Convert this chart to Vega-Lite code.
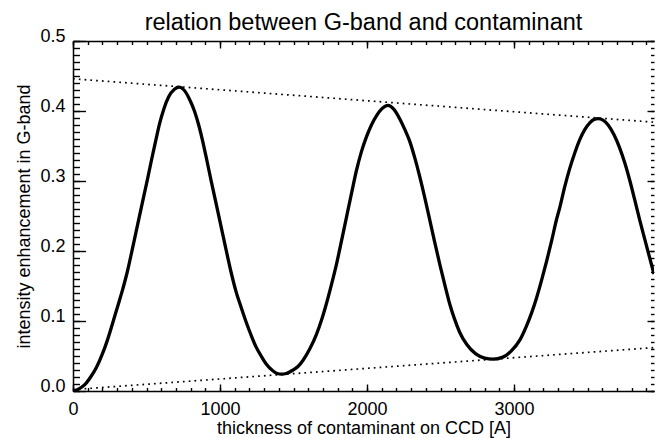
{
  "$schema": "https://vega.github.io/schema/vega-lite/v6.json",
  "width": 581,
  "height": 350,
  "autosize": {"type": "none"},
  "padding": {"left": 73, "top": 41, "right": 2, "bottom": 47},
  "background": "white",
  "title": {"text": "relation between G-band and contaminant", "fontSize": 23.5, "font": "Liberation Sans", "fontWeight": "normal", "color": "black", "anchor": "middle", "offset": -7},
  "config": {
    "view": {"stroke": null},
    "axis": {"grid": false, "minExtent": 0, "labelFont": "Liberation Sans", "titleFont": "Liberation Sans", "labelColor": "black", "titleColor": "black", "domainColor": "black", "tickColor": "black", "labelFontSize": 18, "titleFontSize": 18, "titleFontWeight": "normal", "tickWidth": 1.4, "domainWidth": 1.5, "labelFlush": false, "labelOverlap": false}
  },
  "datasets": {
    "curve": [
      {"thickness": 0, "enhancement": 0.0},
      {"thickness": 40, "enhancement": 0.003},
      {"thickness": 80, "enhancement": 0.009},
      {"thickness": 120, "enhancement": 0.02},
      {"thickness": 160, "enhancement": 0.034},
      {"thickness": 200, "enhancement": 0.053},
      {"thickness": 233, "enhancement": 0.072},
      {"thickness": 267, "enhancement": 0.095},
      {"thickness": 301, "enhancement": 0.119},
      {"thickness": 335, "enhancement": 0.143},
      {"thickness": 369, "enhancement": 0.17},
      {"thickness": 404, "enhancement": 0.203},
      {"thickness": 448, "enhancement": 0.246},
      {"thickness": 476, "enhancement": 0.273},
      {"thickness": 505, "enhancement": 0.301},
      {"thickness": 534, "enhancement": 0.33},
      {"thickness": 562, "enhancement": 0.357},
      {"thickness": 589, "enhancement": 0.382},
      {"thickness": 618, "enhancement": 0.403},
      {"thickness": 650, "enhancement": 0.42},
      {"thickness": 690, "enhancement": 0.431},
      {"thickness": 722, "enhancement": 0.434},
      {"thickness": 755, "enhancement": 0.43},
      {"thickness": 790, "enhancement": 0.418},
      {"thickness": 826, "enhancement": 0.4},
      {"thickness": 855, "enhancement": 0.38},
      {"thickness": 882, "enhancement": 0.357},
      {"thickness": 910, "enhancement": 0.33},
      {"thickness": 939, "enhancement": 0.301},
      {"thickness": 968, "enhancement": 0.273},
      {"thickness": 996, "enhancement": 0.246},
      {"thickness": 1040, "enhancement": 0.203},
      {"thickness": 1075, "enhancement": 0.17},
      {"thickness": 1109, "enhancement": 0.142},
      {"thickness": 1143, "enhancement": 0.12},
      {"thickness": 1177, "enhancement": 0.099},
      {"thickness": 1211, "enhancement": 0.08},
      {"thickness": 1245, "enhancement": 0.063},
      {"thickness": 1280, "enhancement": 0.05},
      {"thickness": 1313, "enhancement": 0.039},
      {"thickness": 1359, "enhancement": 0.029},
      {"thickness": 1390, "enhancement": 0.025},
      {"thickness": 1418, "enhancement": 0.024},
      {"thickness": 1450, "enhancement": 0.025},
      {"thickness": 1497, "enhancement": 0.03},
      {"thickness": 1530, "enhancement": 0.035},
      {"thickness": 1565, "enhancement": 0.044},
      {"thickness": 1610, "enhancement": 0.06},
      {"thickness": 1656, "enhancement": 0.081},
      {"thickness": 1690, "enhancement": 0.101},
      {"thickness": 1724, "enhancement": 0.125},
      {"thickness": 1758, "enhancement": 0.152},
      {"thickness": 1792, "enhancement": 0.181},
      {"thickness": 1826, "enhancement": 0.214},
      {"thickness": 1860, "enhancement": 0.248},
      {"thickness": 1894, "enhancement": 0.282},
      {"thickness": 1928, "enhancement": 0.315},
      {"thickness": 1962, "enhancement": 0.342},
      {"thickness": 1996, "enhancement": 0.363},
      {"thickness": 2030, "enhancement": 0.38},
      {"thickness": 2064, "enhancement": 0.393},
      {"thickness": 2100, "enhancement": 0.403},
      {"thickness": 2143, "enhancement": 0.408},
      {"thickness": 2180, "enhancement": 0.403},
      {"thickness": 2222, "enhancement": 0.389},
      {"thickness": 2256, "enhancement": 0.374},
      {"thickness": 2290, "enhancement": 0.357},
      {"thickness": 2325, "enhancement": 0.333},
      {"thickness": 2359, "enhancement": 0.306},
      {"thickness": 2393, "enhancement": 0.276},
      {"thickness": 2427, "enhancement": 0.244},
      {"thickness": 2461, "enhancement": 0.212},
      {"thickness": 2495, "enhancement": 0.181},
      {"thickness": 2530, "enhancement": 0.151},
      {"thickness": 2563, "enhancement": 0.124},
      {"thickness": 2595, "enhancement": 0.103},
      {"thickness": 2630, "enhancement": 0.084},
      {"thickness": 2680, "enhancement": 0.066},
      {"thickness": 2740, "enhancement": 0.053},
      {"thickness": 2800, "enhancement": 0.047},
      {"thickness": 2858, "enhancement": 0.0455},
      {"thickness": 2920, "enhancement": 0.048},
      {"thickness": 2980, "enhancement": 0.057},
      {"thickness": 3040, "enhancement": 0.073},
      {"thickness": 3085, "enhancement": 0.093},
      {"thickness": 3120, "enhancement": 0.112},
      {"thickness": 3153, "enhancement": 0.133},
      {"thickness": 3187, "enhancement": 0.158},
      {"thickness": 3221, "enhancement": 0.185},
      {"thickness": 3255, "enhancement": 0.214},
      {"thickness": 3289, "enhancement": 0.245},
      {"thickness": 3311, "enhancement": 0.262},
      {"thickness": 3345, "enhancement": 0.292},
      {"thickness": 3379, "enhancement": 0.318},
      {"thickness": 3413, "enhancement": 0.34},
      {"thickness": 3447, "enhancement": 0.359},
      {"thickness": 3480, "enhancement": 0.373},
      {"thickness": 3515, "enhancement": 0.383},
      {"thickness": 3545, "enhancement": 0.388},
      {"thickness": 3572, "enhancement": 0.389},
      {"thickness": 3605, "enhancement": 0.387},
      {"thickness": 3640, "enhancement": 0.38},
      {"thickness": 3680, "enhancement": 0.366},
      {"thickness": 3719, "enhancement": 0.347},
      {"thickness": 3753, "enhancement": 0.326},
      {"thickness": 3787, "enhancement": 0.301},
      {"thickness": 3821, "enhancement": 0.273},
      {"thickness": 3855, "enhancement": 0.244},
      {"thickness": 3889, "enhancement": 0.217},
      {"thickness": 3923, "enhancement": 0.19},
      {"thickness": 3952, "enhancement": 0.167}
    ],
    "upper": [
      {"thickness": 0, "enhancement": 0.446},
      {"thickness": 3952, "enhancement": 0.384}
    ],
    "lower": [
      {"thickness": 0, "enhancement": 0.002},
      {"thickness": 3952, "enhancement": 0.062}
    ]
  },
  "layer": [
    {
      "data": {"name": "curve"},
      "mark": {"type": "line", "color": "black", "strokeWidth": 3.3, "interpolate": "monotone", "clip": true},
      "encoding": {
        "x": {"field": "thickness", "type": "quantitative", "scale": {"domain": [0, 3952], "nice": false, "zero": false},
          "axis": {"orient": "bottom", "values": [0, 1000, 2000, 3000], "format": "d", "ticks": false, "domain": true, "labelPadding": 23.5, "labelBaseline": "alphabetic", "title": "thickness of contaminant on CCD [A]", "titleY": 42, "titleBaseline": "alphabetic"}},
        "y": {"field": "enhancement", "type": "quantitative", "scale": {"domain": [0, 0.5], "nice": false, "zero": false},
          "axis": {"orient": "left", "values": [0, 0.1, 0.2, 0.3, 0.4, 0.5], "format": ".1f", "ticks": false, "domain": true, "labelPadding": 8, "labelBaseline": "alphabetic", "title": "intensity enhancement in G-band", "titleX": -44, "titleBaseline": "alphabetic"}}
      }
    },
    {
      "data": {"name": "upper"},
      "mark": {"type": "line", "color": "black", "strokeWidth": 1.7, "strokeDash": [1.7, 4.1], "clip": true},
      "encoding": {
        "x": {"field": "thickness", "type": "quantitative", "scale": {"domain": [0, 3952], "nice": false, "zero": false},
          "axis": {"orient": "bottom", "values": [0, 1000, 2000, 3000], "labels": false, "domain": false, "ticks": true, "tickSize": 7, "offset": -7, "title": null}},
        "y": {"field": "enhancement", "type": "quantitative", "scale": {"domain": [0, 0.5], "nice": false, "zero": false},
          "axis": {"orient": "left", "values": [0, 0.1, 0.2, 0.3, 0.4, 0.5], "labels": false, "domain": false, "ticks": true, "tickSize": 12.5, "offset": -12.5, "title": null}}
      }
    },
    {
      "data": {"name": "lower"},
      "mark": {"type": "line", "color": "black", "strokeWidth": 1.7, "strokeDash": [1.7, 4.1], "clip": true},
      "encoding": {
        "x": {"field": "thickness", "type": "quantitative", "scale": {"domain": [0, 3952], "nice": false, "zero": false},
          "axis": {"orient": "bottom", "values": [0, 100, 200, 300, 400, 500, 600, 700, 800, 900, 1000, 1100, 1200, 1300, 1400, 1500, 1600, 1700, 1800, 1900, 2000, 2100, 2200, 2300, 2400, 2500, 2600, 2700, 2800, 2900, 3000, 3100, 3200, 3300, 3400, 3500, 3600, 3700, 3800, 3900], "labels": false, "domain": false, "ticks": true, "tickSize": 3.5, "offset": -3.5, "title": null}},
        "y": {"field": "enhancement", "type": "quantitative", "scale": {"domain": [0, 0.5], "nice": false, "zero": false},
          "axis": {"orient": "left", "values": [0, 0.01, 0.02, 0.03, 0.04, 0.05, 0.06, 0.07, 0.08, 0.09, 0.1, 0.11, 0.12, 0.13, 0.14, 0.15, 0.16, 0.17, 0.18, 0.19, 0.2, 0.21, 0.22, 0.23, 0.24, 0.25, 0.26, 0.27, 0.28, 0.29, 0.3, 0.31, 0.32, 0.33, 0.34, 0.35, 0.36, 0.37, 0.38, 0.39, 0.4, 0.41, 0.42, 0.43, 0.44, 0.45, 0.46, 0.47, 0.48, 0.49, 0.5], "labels": false, "domain": false, "ticks": true, "tickSize": 6.5, "offset": -6.5, "title": null}}
      }
    },
    {
      "data": {"name": "upper"},
      "mark": {"type": "line", "opacity": 0},
      "encoding": {
        "x": {"field": "thickness", "type": "quantitative", "scale": {"domain": [0, 3952], "nice": false, "zero": false},
          "axis": {"orient": "top", "values": [0, 1000, 2000, 3000], "labels": false, "domain": false, "ticks": true, "tickSize": 7, "offset": -7, "title": null}},
        "y": {"field": "enhancement", "type": "quantitative", "scale": {"domain": [0, 0.5], "nice": false, "zero": false},
          "axis": {"orient": "right", "values": [0, 0.1, 0.2, 0.3, 0.4, 0.5], "labels": false, "domain": false, "ticks": true, "tickSize": 7, "offset": -7, "title": null}}
      }
    },
    {
      "data": {"name": "lower"},
      "mark": {"type": "line", "opacity": 0},
      "encoding": {
        "x": {"field": "thickness", "type": "quantitative", "scale": {"domain": [0, 3952], "nice": false, "zero": false},
          "axis": {"orient": "top", "values": [0, 100, 200, 300, 400, 500, 600, 700, 800, 900, 1000, 1100, 1200, 1300, 1400, 1500, 1600, 1700, 1800, 1900, 2000, 2100, 2200, 2300, 2400, 2500, 2600, 2700, 2800, 2900, 3000, 3100, 3200, 3300, 3400, 3500, 3600, 3700, 3800, 3900], "labels": false, "domain": false, "ticks": true, "tickSize": 3.5, "offset": -3.5, "title": null}},
        "y": {"field": "enhancement", "type": "quantitative", "scale": {"domain": [0, 0.5], "nice": false, "zero": false},
          "axis": {"orient": "right", "values": [0, 0.01, 0.02, 0.03, 0.04, 0.05, 0.06, 0.07, 0.08, 0.09, 0.1, 0.11, 0.12, 0.13, 0.14, 0.15, 0.16, 0.17, 0.18, 0.19, 0.2, 0.21, 0.22, 0.23, 0.24, 0.25, 0.26, 0.27, 0.28, 0.29, 0.3, 0.31, 0.32, 0.33, 0.34, 0.35, 0.36, 0.37, 0.38, 0.39, 0.4, 0.41, 0.42, 0.43, 0.44, 0.45, 0.46, 0.47, 0.48, 0.49, 0.5], "labels": false, "domain": false, "ticks": true, "tickSize": 3.5, "offset": -3.5, "title": null}}
      }
    },
    {
      "data": {"name": "upper"},
      "mark": {"type": "line", "opacity": 0},
      "encoding": {
        "x": {"field": "thickness", "type": "quantitative", "scale": {"domain": [0, 3952], "nice": false, "zero": false},
          "axis": {"orient": "top", "labels": false, "domain": true, "ticks": false, "title": null}},
        "y": {"field": "enhancement", "type": "quantitative", "axis": null}
      }
    }
  ],
  "resolve": {"axis": {"x": "independent", "y": "independent"}}
}
